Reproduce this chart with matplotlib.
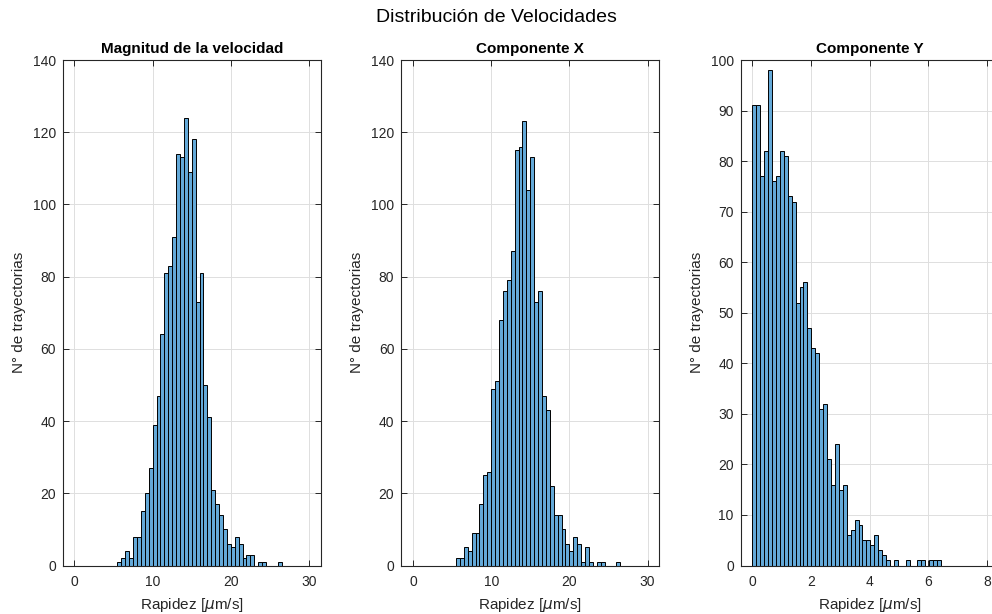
import matplotlib
matplotlib.use("Agg")
import matplotlib.pyplot as plt
import numpy as np

# histogram counts (bin width 0.5 starting at 5.5)
mag_start = 5.5
mag_width = 0.5
mag_counts = [1, 2, 4, 2, 8, 8, 15, 20, 27, 39, 47, 64, 81, 83, 91, 114, 113, 124, 109, 118,
              73, 81, 50, 41, 21, 17, 14, 10, 6, 5, 8, 6, 2, 3, 3, 0, 1, 1, 0, 0, 0, 1]

vx_start = 5.5
vx_width = 0.5
vx_counts = [2, 2, 5, 4, 9, 9, 17, 25, 26, 49, 51, 68, 76, 79, 87, 115, 116, 123, 104, 113,
             73, 76, 47, 43, 22, 14, 14, 10, 6, 4, 8, 6, 1, 5, 1, 0, 1, 1, 0, 0, 0, 1]

vy_start = 0.0
vy_width = 0.134
vy_counts = [91, 91, 77, 82, 98, 76, 77, 82, 81, 73, 72, 52, 55, 56, 47, 43, 42, 31, 32, 21,
             16, 24, 15, 16, 6, 7, 9, 8, 5, 5, 4, 6, 3, 2, 1, 0, 1, 0, 0, 1, 0, 0, 1, 1, 0, 1, 1, 1]

titles = ['Magnitud de la velocidad', 'Componente X', 'Componente Y']
xlims = [(-1.5, 31.5), (-1.5, 31.5), (-0.4, 8.4)]
xticks = [[0, 10, 20, 30], [0, 10, 20, 30], [0, 2, 4, 6, 8]]
ylims = [(0, 140), (0, 140), (0, 100)]
yticks = [range(0, 141, 20), range(0, 141, 20), range(0, 101, 10)]

plt.rcParams['font.family'] = ['Liberation Sans', 'DejaVu Sans']
plt.rcParams['mathtext.fontset'] = 'dejavusans'

axis_color = '#262626'
bar_color = '#64a9d8'


def draw_hist(ax, start, width, counts):
    # left edges of each bin
    lefts = start + width * np.arange(len(counts))
    ax.bar(lefts, counts, width=width, align='edge', color=bar_color,
           edgecolor='black', linewidth=0.7)


fig = plt.figure(figsize=(9.92, 6.14), dpi=100)

lefts_px = [62.7, 401.3, 740.7]
data = [(mag_start, mag_width, mag_counts),
        (vx_start, vx_width, vx_counts),
        (vy_start, vy_width, vy_counts)]

for i in range(3):
    ax = fig.add_axes([lefts_px[i] / 992, (614 - 565.5) / 614, 258 / 992, 505.5 / 614])
    draw_hist(ax, *data[i])

    ax.set_xlim(xlims[i])
    ax.set_ylim(ylims[i])
    ax.set_xticks(xticks[i])
    ax.set_yticks(list(yticks[i]))

    # matlab-like box, grid and inward ticks
    ax.set_axisbelow(True)
    ax.grid(True, color='#dedede', linewidth=0.7)
    ax.tick_params(direction='in', length=4.5, width=0.7, top=True, right=True,
                   labelsize=10, colors=axis_color)
    ax.tick_params(axis='x', pad=7)
    ax.tick_params(axis='y', pad=5)
    for side in ax.spines.values():
        side.set_color(axis_color)
        side.set_linewidth(0.8)

    ax.set_title(titles[i], fontsize=11, fontweight='bold', pad=5)
    ax.set_xlabel('Rapidez [$\\mu$m/s]', fontsize=11, color=axis_color, labelpad=5)
    ax.set_ylabel('N° de trayectorias', fontsize=11, color=axis_color, labelpad=5)

fig.text(0.5, 1 - 17 / 614, 'Distribución de Velocidades', ha='center', va='center',
         fontsize=14, color='black')

fig.savefig('out.png', dpi=100)
